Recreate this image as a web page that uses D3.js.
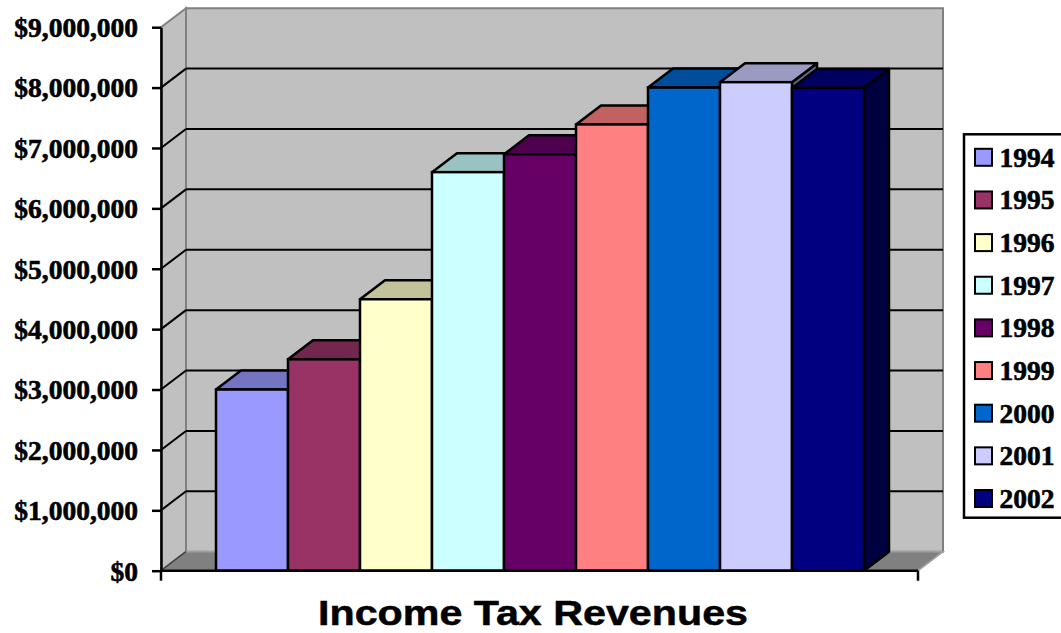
<!DOCTYPE html>
<html>
<head>
<meta charset="utf-8">
<script src="https://cdn.jsdelivr.net/npm/d3@7/dist/d3.min.js"></script>
<style>
  html, body { margin: 0; padding: 0; background: #fff; }
  svg { display: block; }
</style>
</head>
<body>
<svg id="chart" width="1061" height="633"></svg>
<script>
// ---- data ----
const years = ["1994", "1995", "1996", "1997", "1998", "1999", "2000", "2001", "2002"];
const revenues = [3000000, 3500000, 4495000, 6600000, 6895000, 7390000, 8000000, 8090000, 7995000];
const barColors = ["#9999FF", "#993366", "#FFFFCC", "#CCFFFF", "#660066", "#FF8080", "#0066CC", "#CCCCFF", "#000080"];
const yTicks = [0, 1000000, 2000000, 3000000, 4000000, 5000000, 6000000, 7000000, 8000000, 9000000];
const title = "Income Tax Revenues";

// ---- layout ----
const svg = d3.select("#chart");
const DX = 25, DY = -19;          // depth offset of the 3D box
const plotLeft = 161, plotRight = 918;

const y = d3.scaleLinear().domain([0, 9000000]).range([570.7, 27.2]);
const x = d3.scaleBand().domain(years).range([216, 864]).padding(0);

const y0 = y(0), yTop = y(9000000);
const pts = a => a.map(p => p.join(",")).join(" ");

// back wall
svg.append("polygon")
  .attr("points", pts([[plotLeft + DX, yTop + DY], [plotRight + DX, yTop + DY], [plotRight + DX, y0 + DY], [plotLeft + DX, y0 + DY]]))
  .attr("fill", "#C0C0C0").attr("stroke", "#808080").attr("stroke-width", 2);
// left wall
svg.append("polygon")
  .attr("points", pts([[plotLeft, yTop], [plotLeft + DX, yTop + DY], [plotLeft + DX, y0 + DY], [plotLeft, y0]]))
  .attr("fill", "#C0C0C0").attr("stroke", "#808080").attr("stroke-width", 2);
// floor
svg.append("polygon")
  .attr("points", pts([[plotLeft, y0], [plotLeft + DX, y0 + DY], [plotRight + DX, y0 + DY], [plotRight, y0]]))
  .attr("fill", "#808080").attr("stroke", "#A0A0A0").attr("stroke-width", 1.5);
svg.append("line")
  .attr("x1", plotLeft).attr("y1", y0).attr("x2", plotLeft + DX).attr("y2", y0 + DY)
  .attr("stroke", "#404040").attr("stroke-width", 1.5);

// gridlines
const gridVals = yTicks.filter(v => v > 0 && v < 9000000);
const grid = svg.append("g");
grid.selectAll("line.back").data(gridVals).join("line")
  .attr("x1", plotLeft + DX).attr("x2", plotRight + DX)
  .attr("y1", d => y(d) + DY).attr("y2", d => y(d) + DY)
  .attr("stroke", "#000").attr("stroke-width", 2);
grid.selectAll("line.side").data(gridVals).join("line")
  .attr("x1", plotLeft).attr("x2", plotLeft + DX)
  .attr("y1", d => y(d)).attr("y2", d => y(d) + DY)
  .attr("stroke", "#000").attr("stroke-width", 2);

// bars
const shade = (c, k) => { const r = d3.rgb(c); return d3.rgb(r.r * k, r.g * k, r.b * k).formatHex(); };
const bars = svg.append("g").selectAll("g").data(years).join("g");
bars.each(function (yr, i) {
  const g = d3.select(this);
  const x0 = x(yr), x1 = x(yr) + x.bandwidth();
  const yv = y(revenues[i]);
  // right side
  g.append("polygon")
    .attr("points", pts([[x1, yv], [x1 + DX, yv + DY], [x1 + DX, y0 + DY], [x1, y0]]))
    .attr("fill", shade(barColors[i], 0.5)).attr("stroke", "#000").attr("stroke-width", 2.5).attr("stroke-linejoin", "round");
  // top
  g.append("polygon")
    .attr("points", pts([[x0, yv], [x0 + DX, yv + DY], [x1 + DX, yv + DY], [x1, yv]]))
    .attr("fill", shade(barColors[i], 0.76)).attr("stroke", "#000").attr("stroke-width", 2.5).attr("stroke-linejoin", "round");
  // front
  g.append("rect")
    .attr("x", x0).attr("y", yv).attr("width", x.bandwidth()).attr("height", y0 - yv)
    .attr("fill", barColors[i]).attr("stroke", "#000").attr("stroke-width", 2.5);
});

// y axis
const yAxis = d3.axisLeft(y).tickValues(yTicks).tickSize(9).tickSizeOuter(0).tickPadding(14)
  .tickFormat(d3.format("$,"));
const ya = svg.append("g").attr("transform", `translate(${plotLeft},0)`).call(yAxis);
ya.select(".domain").attr("stroke", "#000").attr("stroke-width", 2.5);
ya.selectAll(".tick line").attr("stroke", "#000").attr("stroke-width", 2.5);
ya.selectAll(".tick text")
  .attr("font-family", "'Liberation Serif', 'Times New Roman', serif")
  .attr("font-weight", "bold").attr("font-size", 27.5).attr("fill", "#000")
  .attr("stroke", "#000").attr("stroke-width", 0.6)
  .attr("dy", "0.34em");

// bottom axis (single category axis)
svg.append("line").attr("x1", plotLeft).attr("x2", plotRight).attr("y1", y0).attr("y2", y0)
  .attr("stroke", "#000").attr("stroke-width", 2.5);
[plotLeft, plotRight].forEach(px => {
  svg.append("line").attr("x1", px).attr("x2", px).attr("y1", y0).attr("y2", y0 + 10)
    .attr("stroke", "#000").attr("stroke-width", 2.5);
});

// title
svg.append("text")
  .attr("x", 533).attr("y", 624.5).attr("text-anchor", "middle")
  .attr("font-family", "'Liberation Sans', Arial, sans-serif").attr("font-weight", "bold")
  .attr("font-size", 35.5).attr("textLength", 430).attr("lengthAdjust", "spacingAndGlyphs")
  .attr("fill", "#000").attr("stroke", "#000").attr("stroke-width", 0.5).text(title);

// legend
const lg = svg.append("g");
lg.append("rect").attr("x", 964).attr("y", 134.3).attr("width", 100).attr("height", 383.4)
  .attr("fill", "#fff").attr("stroke", "#000").attr("stroke-width", 2.5);
const ly = d3.scalePoint().domain(years).range([157.3, 498.5]);
const items = lg.selectAll("g.item").data(years).join("g").attr("class", "item")
  .attr("transform", d => `translate(0,${ly(d)})`);
items.append("rect").attr("x", 975).attr("y", -8.5).attr("width", 17).attr("height", 17)
  .attr("fill", (d, i) => barColors[i]).attr("stroke", "#000").attr("stroke-width", 2);
items.append("text").attr("x", 999.5).attr("y", 0).attr("dy", "0.34em")
  .attr("font-family", "'Liberation Serif', 'Times New Roman', serif")
  .attr("font-weight", "bold").attr("font-size", 27.5).attr("fill", "#000")
  .attr("stroke", "#000").attr("stroke-width", 0.6)
  .text(d => d);
</script>
</body>
</html>
